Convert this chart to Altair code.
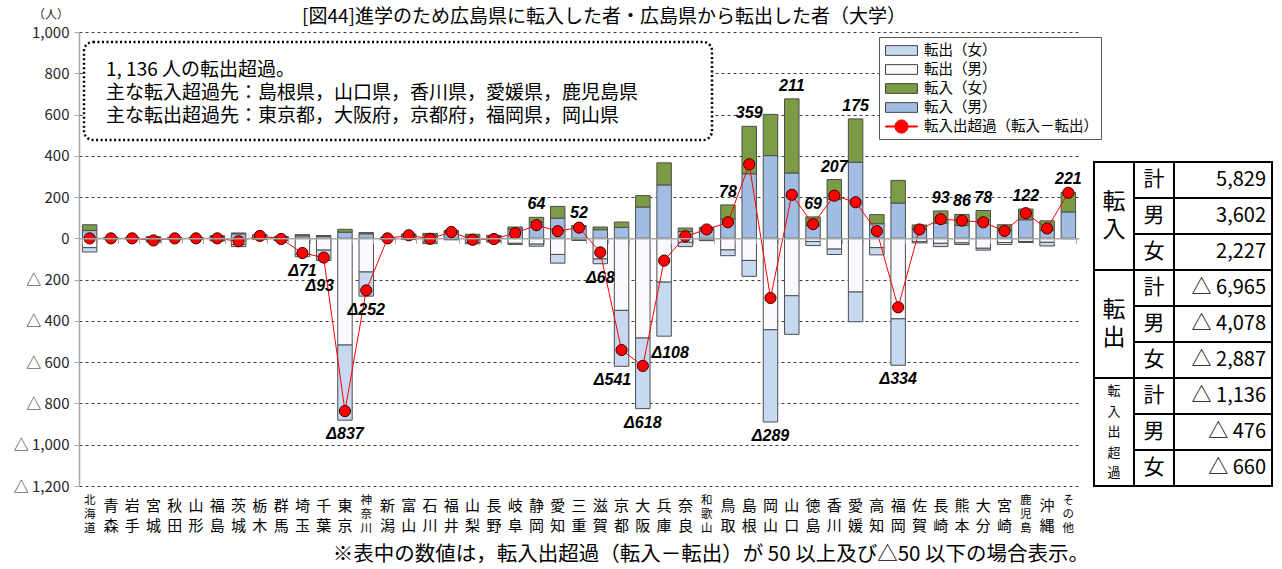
import altair as alt
import pandas as pd

FONT = "Noto Sans CJK JP"

# Categories (46 prefectures other than Hiroshima, plus "other")
prefs = ["北海道", "青森", "岩手", "宮城", "秋田", "山形", "福島", "茨城", "栃木", "群馬",
         "埼玉", "千葉", "東京", "神奈川", "新潟", "富山", "石川", "福井", "山梨", "長野",
         "岐阜", "静岡", "愛知", "三重", "滋賀", "京都", "大阪", "兵庫", "奈良", "和歌山",
         "鳥取", "島根", "岡山", "山口", "徳島", "香川", "愛媛", "高知", "福岡", "佐賀",
         "長崎", "熊本", "大分", "宮崎", "鹿児島", "沖縄", "その他"]

# Students moving into Hiroshima (male / female)
in_male = [38, 2, 2, 5, 2, 2, 8, 22, 14, 6,
           12, 10, 30, 22, 3, 16, 16, 30, 10, 8,
           45, 80, 98, 56, 42, 53, 152, 259, 34, 44,
           94, 313, 401, 317, 62, 188, 369, 71, 171, 45,
           74, 62, 90, 40, 90, 38, 128]
in_female = [28, 1, 1, 3, 1, 1, 5, 4, 4, 2,
             6, 4, 14, 6, 2, 5, 8, 8, 10, 7,
             10, 22, 57, 6, 13, 26, 55, 107, 16, 10,
             68, 230, 200, 359, 42, 97, 210, 44, 110, 20,
             59, 54, 45, 26, 52, 47, 95]
# Students moving out of Hiroshima (male / female)
out_male = [45, 2, 2, 12, 2, 2, 9, 30, 4, 8,
            78, 57, 517, 163, 4, 4, 18, 5, 20, 12,
            24, 28, 78, 7, 100, 349, 483, 212, 19, 8,
            56, 107, 443, 278, 15, 52, 260, 45, 390, 16,
            24, 22, 48, 20, 15, 19, 2]
out_female = [21, 1, 1, 6, 1, 1, 4, 10, 2, 3,
              11, 50, 364, 117, 1, 2, 8, 2, 7, 6,
              6, 10, 42, 3, 23, 271, 342, 262, 21, 3,
              28, 77, 447, 187, 20, 26, 144, 35, 225, 6,
              16, 8, 9, 10, 5, 18, 0]

series_names = ["転出（女）", "転出（男）", "転入（女）", "転入（男）", "転入出超過（転入－転出）"]
series_colors = ["#c6d9f1", "#f8fafd", "#7b9c45", "#a2bde3", "#ff0000"]
NET_NAME = series_names[4]

# Summary table on the right
table_groups = ["転入", "転出", "転入出超過"]
table_rows = ["計", "男", "女"]
table_values = [5829, 3602, 2227, -6965, -4078, -2887, -1136, -476, -660]

summary_lines = ["1, 136 人の転出超過。",
                 "主な転入超過先：島根県，山口県，香川県，愛媛県，鹿児島県",
                 "主な転出超過先：東京都，大阪府，京都府，福岡県，岡山県"]
title_text = "[図44]進学のため広島県に転入した者・広島県から転出した者（大学）"
unit_text = "（人）"
footnote = "※表中の数値は，転入出超過（転入－転出）が 50 以上及び△50 以下の場合表示。"

Y_MIN, Y_MAX = -1200, 1000
W, H = 1000, 454

# ---- tidy frames -------------------------------------------------------
bar_rows = []
net_rows = []
for i, p in enumerate(prefs):
    im, jf, om, of = in_male[i], in_female[i], out_male[i], out_female[i]
    segs = [("転入（男）", 0, im), ("転入（女）", im, im + jf),
            ("転出（男）", 0, -om), ("転出（女）", -om, -(om + of))]
    for s, a, b in segs:
        if a != b:
            bar_rows.append({"pref": p, "series": s, "y0": a, "y1": b})
    net = im + jf - om - of
    net_rows.append({"pref": p, "net": net, "top": im + jf, "bottom": -(om + of),
                     "label": (str(net) if net >= 0 else "Δ" + str(-net))})
bars_df = pd.DataFrame(bar_rows)
net_df = pd.DataFrame(net_rows)
lab_df = net_df[net_df["net"].abs() >= 50]
series_df = pd.DataFrame({"series": series_names})

name_df = pd.DataFrame({"pref": prefs,
                        "n": [len(p) for p in prefs],
                        "c1": [p[0] for p in prefs],
                        "c2": [p[1] if len(p) > 1 else "" for p in prefs],
                        "c3": [p[2] if len(p) > 2 else "" for p in prefs]})

zero_offset = -H * (0 - Y_MIN) / (Y_MAX - Y_MIN)

x_enc = alt.X("pref:N", sort=prefs,
              scale=alt.Scale(domain=prefs, paddingInner=0.32, paddingOuter=0.16),
              axis=alt.Axis(title=None, labels=False, ticks=True, tickBand="extent",
                            tickSize=5, tickColor="#a6a6a6", domainColor="#a6a6a6",
                            domainWidth=1.5, offset=zero_offset, zindex=1, grid=False))
y_scale = alt.Scale(domain=[Y_MIN, Y_MAX], nice=False)
y_axis = alt.Axis(title=None, values=list(range(Y_MIN, Y_MAX + 1, 200)),
                  labelExpr="datum.value < 0 ? '△ ' + format(-datum.value, ',') : format(datum.value, ',')",
                  grid=True, gridDash=[3, 3], gridColor="#3f3f3f", gridWidth=1,
                  domainColor="#a6a6a6", domainWidth=1.5, tickColor="#a6a6a6", tickSize=5,
                  labelPadding=5, labelFont=FONT, labelFontSize=15, labelColor="#262626")

# legend symbols: wide boxes for the bars, a line through a dot for the net series
BOX = "M-1.65,-0.5H1.65V0.5H-1.65Z"
DOT_LINE = ("M-1.65,-0.05H1.65V0.05H-1.65Z "
            "M0.68,0A0.68,0.68 0 1,1 -0.68,0A0.68,0.68 0 1,1 0.68,0Z")
legend = alt.Legend(title=None, orient="none", legendX=800, legendY=5, direction="vertical",
                    symbolSize=376, symbolStrokeWidth=1, symbolOpacity=1, symbolOffset=9,
                    labelFont=FONT, labelFontSize=14.5, labelColor="#000000", labelLimit=400,
                    labelOffset=12, fillColor="white", strokeColor="#595959", padding=3,
                    rowPadding=1)
color_scale = alt.Scale(domain=series_names, range=series_colors)

bars = alt.Chart(bars_df).mark_bar(stroke="#4d4d4d", strokeWidth=1).encode(
    x=x_enc,
    y=alt.Y("y0:Q", scale=y_scale, axis=y_axis),
    y2="y1:Q",
    color=alt.Color("series:N", scale=color_scale, legend=legend),
)
legend_keys = alt.Chart(series_df).mark_point(filled=True, opacity=0).encode(
    color=alt.Color("series:N", scale=color_scale, legend=legend),
    shape=alt.Shape("series:N", scale=alt.Scale(domain=series_names,
                                                range=[BOX, BOX, BOX, BOX, DOT_LINE]),
                    legend=legend),
    stroke=alt.Stroke("series:N", scale=alt.Scale(domain=series_names,
                                                  range=["#404040"] * 4 + ["#ff0000"]),
                      legend=legend),
)

line = alt.Chart(net_df).mark_line(color="#ff0000", strokeWidth=1).encode(
    x=alt.X("pref:N", sort=prefs), y=alt.Y("net:Q"))
dots = alt.Chart(net_df).mark_point(filled=True, color="#ff0000", stroke="#3c0000",
                                    strokeWidth=1, size=125, opacity=1).encode(
    x=alt.X("pref:N", sort=prefs), y=alt.Y("net:Q"))

label_style = dict(fontStyle="italic", fontWeight="bold", fontSize=16,
                   font="Liberation Sans", color="#000000")
nudges = {"千葉": (-4, 12), "京都": (-9, 0), "兵庫": (6, 3)}
nudge_test = " && ".join("datum.pref !== '%s'" % k for k in nudges)

pos_labels = alt.Chart(lab_df).transform_filter("datum.net > 0").mark_text(
    baseline="bottom", dy=-5, **label_style).encode(
    x=alt.X("pref:N", sort=prefs), y=alt.Y("top:Q"), text="label:N")
neg_labels = alt.Chart(lab_df).transform_filter("datum.net < 0 && " + nudge_test).mark_text(
    baseline="top", dy=6, **label_style).encode(
    x=alt.X("pref:N", sort=prefs), y=alt.Y("bottom:Q"), text="label:N")
nudged = [alt.Chart(lab_df).transform_filter("datum.pref === '%s'" % k).mark_text(
    baseline="top", dx=dx, dy=6 + dy, **label_style).encode(
    x=alt.X("pref:N", sort=prefs), y=alt.Y("bottom:Q"), text="label:N")
    for k, (dx, dy) in nudges.items()]

one = pd.DataFrame({"k": [0]})
box = alt.Chart(one).mark_rect(fill="white", stroke="#000000", strokeWidth=2.5,
                               strokeDash=[2, 2.5], cornerRadius=9).encode(
    x=alt.value(5), x2=alt.value(633), y=alt.value(10), y2=alt.value(108))
box_text = [alt.Chart(one).mark_text(align="left", baseline="middle", font=FONT,
                                     fontSize=19, color="#000000").encode(
    x=alt.value(27), y=alt.value(38 + 23 * k), text=alt.value(s))
    for k, s in enumerate(summary_lines)]

title = alt.Chart(one).mark_text(align="center", baseline="middle", font=FONT,
                                 fontSize=19, color="#000000").encode(
    x=alt.value(525), y=alt.value(-15), text=alt.value(title_text))
unit = alt.Chart(one).mark_text(align="center", baseline="middle", font=FONT,
                                fontSize=12, color="#262626").encode(
    x=alt.value(-28), y=alt.value(-17), text=alt.value(unit_text))
note = alt.Chart(one).mark_text(align="right", baseline="middle", font=FONT,
                                fontSize=20.5, color="#000000").encode(
    x=alt.value(1010), y=alt.value(H + 69), text=alt.value(footnote))

names = []
for n, fs, ys in ((2, 15, (19.5, 40)), (3, 11.5, (15, 29, 43))):
    for k, yy in enumerate(ys):
        names.append(alt.Chart(name_df).transform_filter("datum.n == %d" % n).mark_text(
            font=FONT, fontSize=fs, color="#000000", baseline="middle").encode(
            x=alt.X("pref:N", sort=prefs), y=alt.value(H + yy),
            text=alt.Text("c%d:N" % (k + 1))))

main = alt.layer(bars, legend_keys, line, dots, pos_labels, neg_labels, *nudged, box,
                 *box_text, title, unit, note, *names).properties(width=W, height=H)

# ---- summary table ----------------------------------------------------
TW = 180
row_top, row_h = 130, 36
cols = [0, 40, 80, 178]
cells, texts, heads, values = [], [], [], []
for g in range(3):
    cells.append({"x0": cols[0], "x1": cols[1], "y0": row_top + 3 * g * row_h,
                  "y1": row_top + 3 * (g + 1) * row_h})
    gname = table_groups[g]
    gc = row_top + (3 * g + 1.5) * row_h
    sp = 28.5 if len(gname) == 2 else 20.5
    for k, ch in enumerate(gname):
        heads.append({"x": 20, "y": gc + (k - (len(gname) - 1) / 2) * sp, "ch": ch,
                      "big": len(gname) == 2})
for r in range(9):
    y0, y1 = row_top + r * row_h, row_top + (r + 1) * row_h
    cells.append({"x0": cols[1], "x1": cols[2], "y0": y0, "y1": y1})
    cells.append({"x0": cols[2], "x1": cols[3], "y0": y0, "y1": y1})
    v = table_values[r]
    texts.append({"x": 60, "y": (y0 + y1) / 2, "t": table_rows[r % 3]})
    values.append({"x": 172, "y": (y0 + y1) / 2,
                   "t": ("{:,}".format(v) if v >= 0 else "△ " + "{:,}".format(-v))})

tx = alt.Scale(domain=[0, TW])
ty = alt.Scale(domain=[0, H], reverse=True)
cells_df, texts_df = pd.DataFrame(cells), pd.DataFrame(texts)
heads_df, values_df = pd.DataFrame(heads), pd.DataFrame(values)

t_cells = alt.Chart(cells_df).mark_rect(fillOpacity=0, stroke="#000000", strokeWidth=2).encode(
    x=alt.X("x0:Q", scale=tx, axis=None), x2="x1:Q",
    y=alt.Y("y0:Q", scale=ty, axis=None), y2="y1:Q")
t_rows = alt.Chart(texts_df).mark_text(font=FONT, fontSize=21, baseline="middle",
                                       color="#000000").encode(
    x=alt.X("x:Q", scale=tx, axis=None), y=alt.Y("y:Q", scale=ty, axis=None), text="t:N")
t_vals = alt.Chart(values_df).mark_text(font=FONT, fontSize=20, baseline="middle",
                                        align="right", color="#000000").encode(
    x=alt.X("x:Q", scale=tx, axis=None), y=alt.Y("y:Q", scale=ty, axis=None), text="t:N")
t_big = alt.Chart(heads_df).transform_filter("datum.big").mark_text(
    font=FONT, fontSize=23, baseline="middle", color="#000000").encode(
    x=alt.X("x:Q", scale=tx, axis=None), y=alt.Y("y:Q", scale=ty, axis=None), text="ch:N")
t_small = alt.Chart(heads_df).transform_filter("!datum.big").mark_text(
    font=FONT, fontSize=13, baseline="middle", color="#000000").encode(
    x=alt.X("x:Q", scale=tx, axis=None), y=alt.Y("y:Q", scale=ty, axis=None), text="ch:N")

table = alt.layer(t_cells, t_rows, t_vals, t_big, t_small).properties(width=TW, height=H)

chart = alt.hconcat(main, table, spacing=15, bounds="flush").configure_view(
    strokeWidth=0).properties(
    padding={"left": 13, "top": 8, "right": 4, "bottom": 4}, background="white")

chart.save("out.html", embed_options={"renderer": "svg", "actions": False})
